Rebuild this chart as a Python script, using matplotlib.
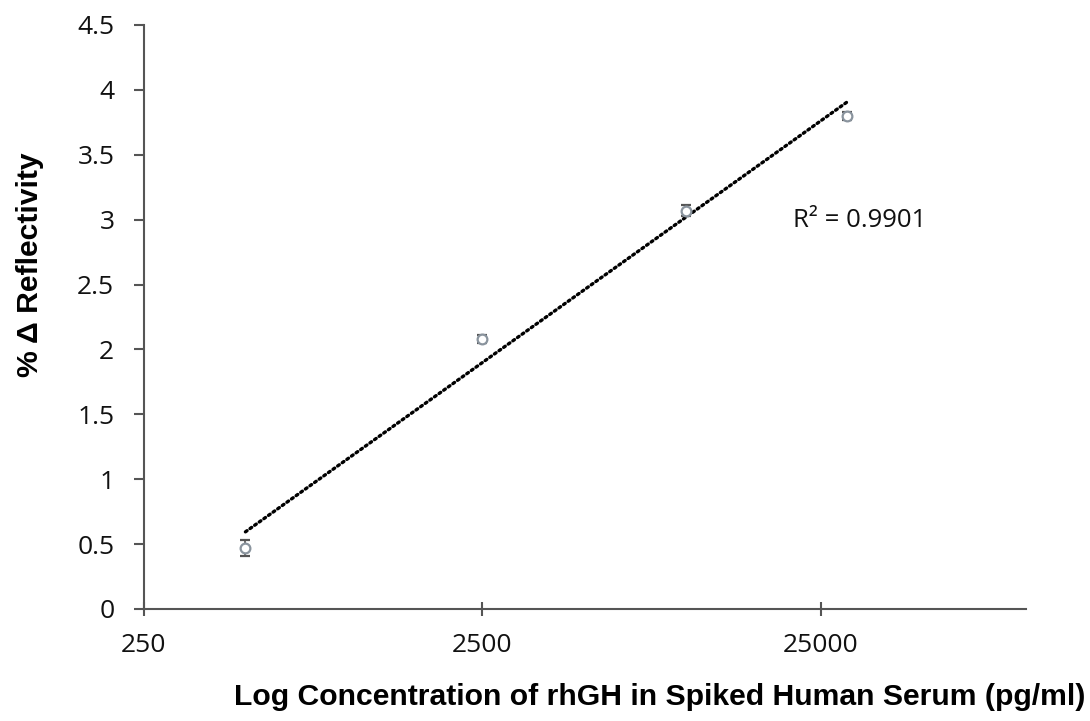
import numpy as np
import matplotlib
matplotlib.use("Agg")
import matplotlib.pyplot as plt
from matplotlib.ticker import FixedLocator, NullLocator, FixedFormatter

# Data
conc = [500, 2500, 10000, 30000]
reflectivity = [0.47, 2.08, 3.07, 3.80]
errors = [0.06, 0.03, 0.04, 0.03]
xticks = [250, 2500, 25000]
xticklabels = ["250", "2500", "25000"]
yticks = [0, 0.5, 1, 1.5, 2, 2.5, 3, 3.5, 4, 4.5]
yticklabels = ["0", "0.5", "1", "1.5", "2", "2.5", "3", "3.5", "4", "4.5"]
r2_label = "R² = 0.9901"

fig = plt.figure(figsize=(10.9, 7.21), dpi=100)
ax = fig.add_axes([143.5/1090, 1-609/721, (1026-143.5)/1090, (609-25)/721])

# log trendline
lx = np.log10(conc)
slope, intercept = np.polyfit(lx, reflectivity, 1)
xx = np.linspace(lx[0], lx[-1], 100)
ax.plot(10**xx, slope*xx + intercept, color="black", lw=2.4,
        linestyle=(0, (0.6, 1.1)), dash_capstyle="round", zorder=2)

ax.errorbar(conc, reflectivity, yerr=errors, fmt="o", ms=7, mfc="white",
            mec="#8a949e", mew=1.6, ecolor="#555555", elinewidth=1.2,
            capsize=3.5, capthick=1.2, zorder=3)

ax.set_xscale("log")
ax.set_xlim(250, 101000)
ax.set_ylim(0, 4.5)
ax.xaxis.set_major_locator(FixedLocator(xticks))
ax.xaxis.set_major_formatter(FixedFormatter(xticklabels))
ax.xaxis.set_minor_locator(NullLocator())
ax.set_yticks(yticks)
ax.set_yticklabels(yticklabels)

for s in ["top", "right"]:
    ax.spines[s].set_visible(False)
for s in ["left", "bottom"]:
    ax.spines[s].set_color("#555555")
    ax.spines[s].set_linewidth(1.5)

ax.tick_params(axis="y", direction="out", length=7, width=1.5, color="#555555",
               labelsize=19, pad=14)
ax.tick_params(axis="x", direction="inout", length=10, width=1.5, color="#555555",
               labelsize=19, pad=12)
for lab in ax.get_xticklabels() + ax.get_yticklabels():
    lab.set_fontfamily("Open Sans")
    lab.set_color("#111111")

ax.text(0.736, 0.666, r2_label, transform=ax.transAxes, fontsize=18.5,
        family="Open Sans", color="#111111", va="center", ha="left")

fig.text(660/1090, 1-697/721, "Log Concentration of rhGH in Spiked Human Serum (pg/ml)",
         ha="center", va="center", fontsize=21.7, fontweight="bold",
         family="Liberation Sans")
fig.text(30/1090, 1-265/721, "% \u0394 Reflectivity", rotation=90,
         ha="center", va="center", fontsize=21.7, fontweight="bold",
         family="Liberation Sans")

fig.savefig("out.png", dpi=100)
